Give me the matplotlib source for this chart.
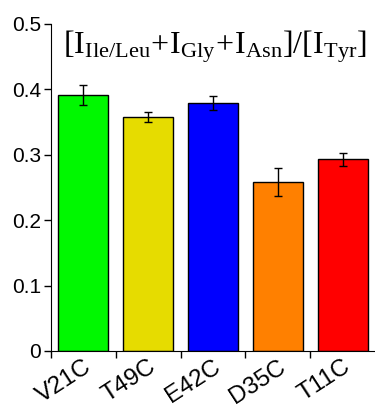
import matplotlib
matplotlib.use("Agg")
import matplotlib.pyplot as plt
import matplotlib.transforms as mtransforms
import numpy as np

# ---- data -------------------------------------------------
mutants = ["V21C", "T49C", "E42C", "D35C", "T11C"]
ratio = [0.391, 0.358, 0.379, 0.258, 0.293]
ratio_err = [0.015, 0.008, 0.011, 0.021, 0.010]
bar_colors = ["#00f800", "#e6dc00", "#0000ff", "#ff8000", "#ff0000"]

plt.rcParams['font.family'] = ['Liberation Sans', 'DejaVu Sans']
plt.rcParams['mathtext.fontset'] = 'custom'
plt.rcParams['mathtext.rm'] = 'Liberation Serif'
plt.rcParams['mathtext.it'] = 'Liberation Serif:italic'

fig = plt.figure(figsize=(3.75, 4.11), dpi=100)
ax = fig.add_axes([0.136, 0.146, 0.864, 0.796])

x = np.arange(len(mutants))
ax.bar(x, ratio, width=0.77, color=bar_colors, edgecolor="black", linewidth=1.0,
       yerr=ratio_err, error_kw=dict(ecolor="black", elinewidth=1.0, capsize=3, capthick=1.0))

ax.set_ylim(0, 0.5)
ax.set_yticks([0, 0.1, 0.2, 0.3, 0.4, 0.5])
ax.set_yticklabels(["0", "0.1", "0.2", "0.3", "0.4", "0.5"])

# ticks sit between the bars, labels under the bar centres
ax.set_xticks(np.arange(len(mutants)) - 0.5)
ax.set_xticklabels([])
ax.set_xticks(x, minor=True)
ax.set_xticklabels(mutants, minor=True, rotation=33, ha="right", va="top",
                   rotation_mode="anchor")
shift = mtransforms.ScaledTranslation(11 / 100, 0, fig.dpi_scale_trans)
for lab in ax.get_xticklabels(minor=True):
    lab.set_transform(lab.get_transform() + shift)
ax.tick_params(axis="x", which="minor", length=0, labelsize=17.5, pad=3.5)
ax.tick_params(axis="x", which="major", length=5, width=1, direction="out")
ax.tick_params(axis="y", length=5, width=1, direction="out", labelsize=15, pad=2)

ax.spines["top"].set_visible(False)
ax.spines["right"].set_visible(False)
ax.spines["left"].set_bounds(0, 0.5)
ax.set_xlim(-0.5, len(mutants) - 0.5)

ax.text(0.505, 0.93,
        r'$[\mathrm{I}_{\mathrm{Ile/Leu}}\!+\!\mathrm{I}_{\mathrm{Gly}}\!+\!\mathrm{I}_{\mathrm{Asn}}]/[\mathrm{I}_{\mathrm{Tyr}}]$',
        transform=ax.transAxes, ha="center", va="center", fontsize=23)

fig.savefig("out.png", dpi=100)
